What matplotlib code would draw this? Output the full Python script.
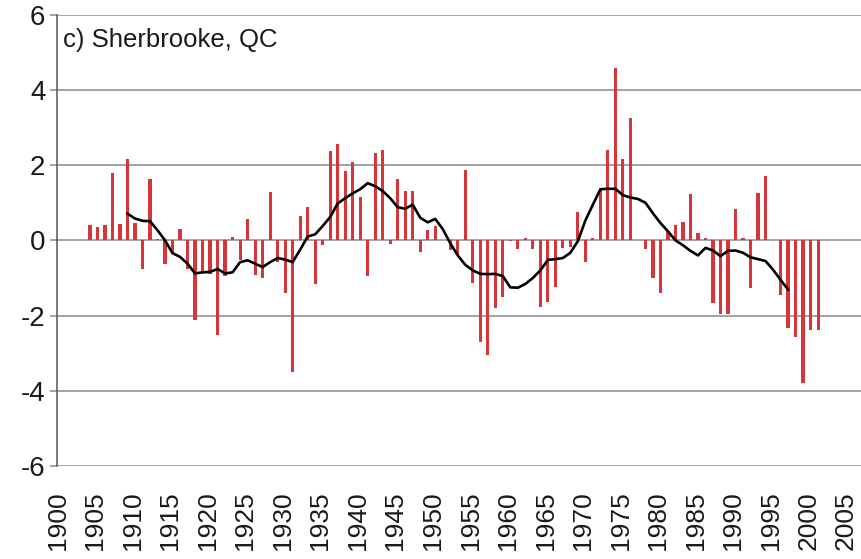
import numpy as np
import matplotlib
matplotlib.use("Agg")
import matplotlib.pyplot as plt

plt.rcParams['font.family'] = ['Liberation Sans', 'DejaVu Sans']

# yearly anomalies, 1904-2001
years = np.arange(1904, 2002)
anomaly = [
    0.40, 0.35, 0.40, 1.80, 0.43, 2.15, 0.45, -0.75, 1.64, 0.04,
    -0.62, -0.36, 0.31, -0.75, -2.13, -0.88, -0.90, -2.51, -0.95, 0.08,
    -0.53, 0.56, -0.93, -1.00, 1.28, -0.58, -1.40, -3.50, 0.66, 0.88,
    -1.17, -0.12, 2.37, 2.55, 1.84, 2.09, 1.15, -0.96, 2.31, 2.41,
    -0.09, 1.62, 1.32, 1.32, -0.31, 0.27, 0.39, 0.00, -0.25, -0.35,
    1.86, -1.13, -2.70, -3.04, -1.79, -1.51, -0.02, -0.22, 0.06, -0.22,
    -1.77, -1.64, -1.24, -0.20, -0.18, 0.75, -0.58, 0.06, 1.37, 2.39,
    4.59, 2.16, 3.24, 0.00, -0.22, -0.99, -1.39, 0.24, 0.40, 0.49,
    1.22, 0.20, 0.06, -1.67, -1.97, -1.95, 0.84, 0.06, -1.27, 1.27,
    1.70, 0.02, -1.45, -2.34, -2.57, -3.78, -2.39, -2.39,
]

# smoothed curve, 1909-1997
smooth_years = np.arange(1909, 1998)
smooth = [
    0.71, 0.58, 0.52, 0.51, 0.27, 0.00, -0.34, -0.44, -0.62, -0.88,
    -0.85, -0.84, -0.76, -0.88, -0.85, -0.58, -0.53, -0.62, -0.71, -0.58,
    -0.47, -0.51, -0.58, -0.25, 0.10, 0.16, 0.38, 0.62, 0.98, 1.12,
    1.25, 1.36, 1.52, 1.44, 1.31, 1.12, 0.88, 0.84, 0.95, 0.60,
    0.48, 0.57, 0.30, -0.08, -0.40, -0.65, -0.80, -0.89, -0.90, -0.89,
    -0.95, -1.25, -1.26, -1.16, -1.00, -0.80, -0.52, -0.50, -0.47, -0.33,
    -0.02, 0.53, 0.95, 1.36, 1.37, 1.37, 1.20, 1.14, 1.10, 1.00,
    0.72, 0.46, 0.24, 0.00, -0.13, -0.28, -0.40, -0.20, -0.27, -0.42,
    -0.28, -0.27, -0.33, -0.45, -0.50, -0.55, -0.78, -1.05, -1.31,
]

xticks = np.arange(1900, 2006, 5)
yticks = np.arange(-6, 7, 2)

off = 0.3  # bars sit a bit right of the year tick

fig = plt.figure(figsize=(8.62, 5.59), dpi=100)
ax = fig.add_axes([57.3 / 862, 93 / 559, 1 - 57.3 / 862, 451.3 / 559])

ax.bar(years + off, anomaly, width=0.42, color='#d6363a', zorder=2)
ax.plot(smooth_years + off, smooth, color='black', lw=1.9, zorder=3)

ax.set_xlim(1899.95, 2007.15)
ax.set_ylim(-6, 6)
ax.set_yticks(yticks)
ax.set_yticklabels([str(v) for v in yticks])
ax.set_xticks(xticks)
ax.set_xticklabels([str(v) for v in xticks], rotation=90)

ax.yaxis.grid(True, color='#8a8a8a', lw=1.1, zorder=1)
ax.set_axisbelow(True)
for s in ['top', 'right', 'bottom']:
    ax.spines[s].set_visible(False)
ax.spines['left'].set_color('#555555')
ax.spines['left'].set_linewidth(1.1)

ax.tick_params(axis='y', length=5, color='#8a8a8a', width=1.1, pad=3.5,
               labelsize=20, labelcolor='#1a1a1a')
ax.tick_params(axis='x', length=0, pad=18, labelsize=19, labelcolor='#1a1a1a')

ax.text(0.007, 0.943, 'c) Sherbrooke, QC', transform=ax.transAxes,
        fontsize=18.5, va='center', ha='left', color='#1a1a1a')

fig.savefig('out.png', dpi=100)
